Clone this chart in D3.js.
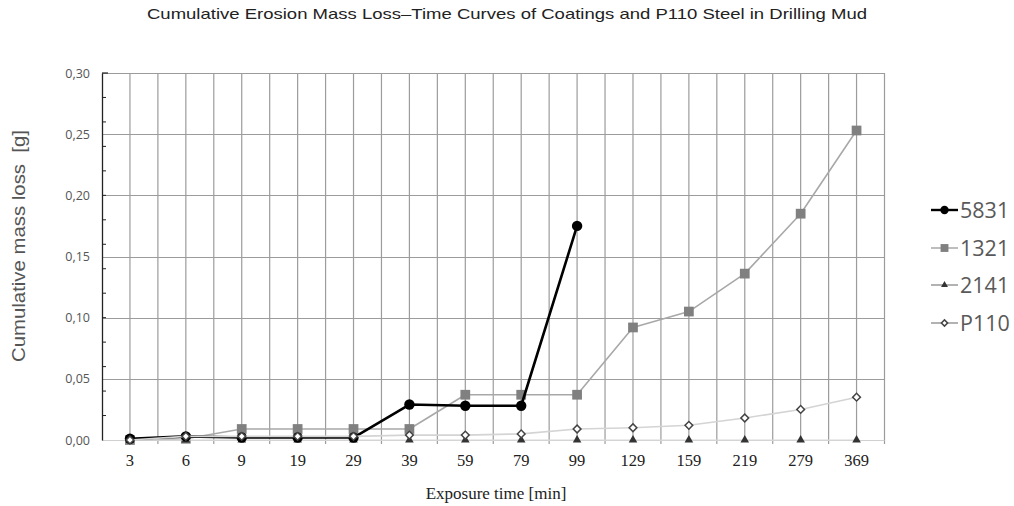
<!DOCTYPE html>
<html><head><meta charset="utf-8">
<script src="https://cdn.jsdelivr.net/npm/d3@7"></script>
<style>body{margin:0;background:#fff}svg{display:block}</style>
</head><body>
<svg id="c" width="1014" height="506"></svg>
<script>
const categories = ["3","6","9","19","29","39","59","79","99","129","159","219","279","369"];
const s5831 = [0.001,0.003,0.002,0.002,0.002,0.029,0.028,0.028,0.175];
const s1321 = [0.000,0.001,0.009,0.009,0.009,0.009,0.037,0.037,0.037,0.092,0.105,0.136,0.185,0.253];
const s2141 = [0,0,0,0,0,0,0,0,0,0,0,0,0,0];
const sP110 = [0.000,0.003,0.003,0.003,0.003,0.004,0.004,0.005,0.009,0.010,0.012,0.018,0.025,0.035];
const yTicks = [0,0.05,0.10,0.15,0.20,0.25,0.30];
const yMinor = [0.02,0.04,0.06,0.08,0.10,0.12,0.14,0.16,0.18,0.20,0.22,0.24,0.26,0.28];
const seriesNames = ["5831","1321","2141","P110"];

const svg = d3.select("#c");
const L = 102, R = 884.5, T = 73, B = 440;
const x = d3.scaleBand().domain(categories).range([L, R]);
const y = d3.scaleLinear().domain([0, 0.30]).range([B, T]);
const cx = c => x(c) + x.bandwidth()/2;

// title
svg.append("text").attr("x", 507).attr("y", 19).attr("text-anchor","middle")
  .attr("font-family","Liberation Sans, Arial, sans-serif").attr("font-size",14.5)
  .attr("fill","#222").attr("textLength",720).attr("lengthAdjust","spacingAndGlyphs")
  .text("Cumulative Erosion Mass Loss\u2013Time Curves of Coatings and P110 Steel in Drilling Mud");

const g = svg.append("g");
g.selectAll(".hg").data(yTicks.filter(d=>d>0)).enter().append("line")
  .attr("x1", L).attr("x2", R).attr("y1", d=>Math.round(y(d))+0.5).attr("y2", d=>Math.round(y(d))+0.5)
  .attr("stroke","#9c9c9c").attr("stroke-width",1.2);
const vb = categories.map(c => x(c)).concat([R]);
const vc = categories.map(cx);
g.selectAll(".vb").data(vb.slice(1)).enter().append("line")
  .attr("x1", d=>d).attr("x2", d=>d).attr("y1", T).attr("y2", B+4)
  .attr("stroke","#9c9c9c").attr("stroke-width",1.2);
g.selectAll(".vc").data(vc).enter().append("line")
  .attr("x1", d=>d).attr("x2", d=>d).attr("y1", T).attr("y2", B)
  .attr("stroke","#9c9c9c").attr("stroke-width",1.2);
g.append("line").attr("x1", L).attr("x2", R).attr("y1", B+0.5).attr("y2", B+0.5)
  .attr("stroke","#d0d0d0").attr("stroke-width",1.2);

// y axis
const yAxis = d3.axisLeft(y).tickValues(yTicks).tickSize(0).tickPadding(12)
  .tickFormat(d => d3.format(".2f")(d).replace(".", ","));
const ya = svg.append("g").attr("transform",`translate(${L},0)`).call(yAxis);
ya.select(".domain").attr("stroke","#222").attr("stroke-width",1.3);
ya.selectAll("text").attr("font-family","Open Sans, Noto Sans, sans-serif").attr("font-size",12.5).attr("fill","#555");
svg.selectAll(".ymin").data(yMinor).enter().append("line")
  .attr("x1", L).attr("x2", L+4).attr("y1", d=>y(d)).attr("y2", d=>y(d))
  .attr("stroke","#222").attr("stroke-width",1);
svg.append("line").attr("x1", L).attr("x2", L+6).attr("y1", T).attr("y2", T).attr("stroke","#222").attr("stroke-width",1.2);

// x axis labels
const xAxis = d3.axisBottom(x).tickSize(0).tickPadding(14);
const xa = svg.append("g").attr("transform",`translate(0,${B})`).call(xAxis);
xa.select(".domain").remove();
xa.selectAll("text").attr("font-family","Liberation Serif, Times New Roman, serif").attr("font-size",16.5).attr("fill","#222");

// axis titles
svg.append("text").attr("transform","translate(25,246) rotate(-90)").attr("text-anchor","middle")
  .attr("font-family","Liberation Sans, Arial, sans-serif").attr("font-size",18.5).attr("fill","#555")
  .attr("xml:space","preserve").attr("textLength",232).attr("lengthAdjust","spacingAndGlyphs")
  .text("Cumulative mass loss  [g]");
svg.append("text").attr("x", 496).attr("y", 499).attr("text-anchor","middle")
  .attr("font-family","Liberation Serif, Times New Roman, serif").attr("font-size",17).attr("fill","#222")
  .text("Exposure time [min]");

const line = d3.line().x((d,i)=>cx(categories[i])).y(d=>y(d));
const sym = (type, size) => d3.symbol().type(type).size(size)();

function drawSeries(data, opts){
  const gs = svg.append("g");
  gs.append("path").attr("d", line(data)).attr("fill","none")
    .attr("stroke", opts.lc).attr("stroke-width", opts.lw).attr("stroke-linejoin","round");
  gs.selectAll("path.m").data(data).enter().append("path").attr("class","m")
    .attr("transform",(d,i)=>`translate(${cx(categories[i])},${y(d)}) rotate(${opts.rot||0})`)
    .attr("d", sym(opts.type, opts.size))
    .attr("fill", opts.fill).attr("stroke", opts.ms || "none").attr("stroke-width", opts.msw || 0);
}
const styles = {
  "5831": {lc:"#000", lw:2.6, type:d3.symbolCircle, size:85, fill:"#000"},
  "1321": {lc:"#a8a8a8", lw:1.6, type:d3.symbolSquare, size:95, fill:"#808080"},
  "2141": {lc:"#d8d8d8", lw:1.2, type:d3.symbolTriangle, size:32, fill:"#333"},
  "P110": {lc:"#d4d4d4", lw:1.6, type:d3.symbolSquare, size:30, rot:45, fill:"#fff", ms:"#444", msw:1.5}
};
drawSeries(s1321, styles["1321"]);
drawSeries(s2141, styles["2141"]);
drawSeries(s5831, styles["5831"]);
drawSeries(sP110, styles["P110"]);

// legend
const lg = svg.append("g");
const legY = [210, 248, 285, 323];
seriesNames.forEach((n,i)=>{
  const st = styles[n];
  const yy = legY[i];
  lg.append("line").attr("x1",931).attr("x2",958).attr("y1",yy).attr("y2",yy)
    .attr("stroke", n==="5831" ? "#000" : (n==="1321" ? "#a8a8a8" : "#999")).attr("stroke-width", n==="5831"?2.4:1.5);
  lg.append("path").attr("transform",`translate(944.5,${yy}) rotate(${st.rot||0})`).attr("d", sym(st.type, st.size*0.65))
    .attr("fill", st.fill).attr("stroke", st.ms||"none").attr("stroke-width", st.msw||0);
  lg.append("text").attr("x",960).attr("y",yy+8).attr("font-family","Open Sans, Noto Sans, sans-serif")
    .attr("font-size",21.5).attr("fill","#595959").text(n);
});
</script>
</body></html>
